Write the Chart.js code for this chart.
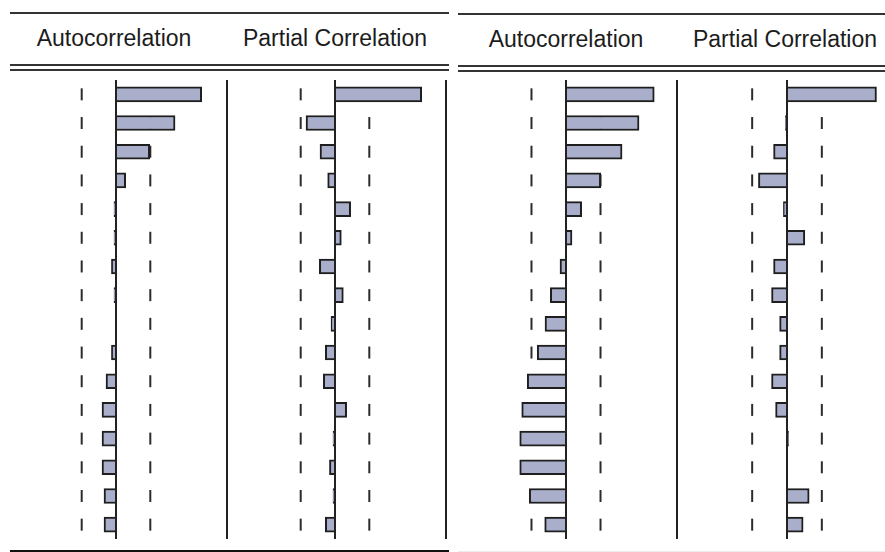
<!DOCTYPE html>
<html>
<head>
<meta charset="utf-8">
<script src="https://cdn.jsdelivr.net/npm/chart.js@4/dist/chart.umd.min.js"></script>
<style>
  html, body { margin: 0; padding: 0; background: #fff; }
  body { width: 885px; height: 552px; overflow: hidden; position: relative; }
  .ln { position: absolute; height: 2px; background: #333; }
  .hd { position: absolute; width: 300px; text-align: center; font-family: "Liberation Sans", Arial, sans-serif;
        font-size: 23px; line-height: 23px; color: #1c1c1c; white-space: nowrap; }
  canvas { position: absolute; }
</style>
</head>
<body>
<div class="ln" style="left:10px;top:12px;width:439px"></div>
<div class="ln" style="left:10px;top:64px;width:439px"></div>
<div class="ln" style="left:10px;top:69px;width:439px"></div>
<div class="ln" style="left:10px;top:550px;width:439px;background:#111"></div>

<div class="ln" style="left:458px;top:13px;width:427px"></div>
<div class="ln" style="left:458px;top:65px;width:427px"></div>
<div class="ln" style="left:458px;top:70px;width:427px"></div>
<div class="ln" style="left:458px;top:551px;width:427px;background:#ececec"></div>

<div class="hd" id="h1" style="left:-36px;top:27px"></div>
<div class="hd" id="h2" style="left:185px;top:27px"></div>
<div class="hd" id="h3" style="left:416px;top:28px"></div>
<div class="hd" id="h4" style="left:635px;top:28px"></div>

<canvas id="c1" width="224" height="459" style="left:5px;top:80px"></canvas>
<canvas id="c2" width="224" height="459" style="left:224px;top:80px"></canvas>
<canvas id="c3" width="224" height="459" style="left:455px;top:80px"></canvas>
<canvas id="c4" width="224" height="459" style="left:675px;top:80px"></canvas>

<script>
// Lags (rows)
const lags = ['1','2','3','4','5','6','7','8','9','10','11','12','13','14','15','16'];

// Left correlogram
const leftAcf  = [0.772, 0.532, 0.304, 0.087, -0.018, -0.018, -0.041, -0.018, 0.000, -0.041, -0.090, -0.126, -0.126, -0.126, -0.108, -0.108];
const leftPacf = [0.781, -0.261, -0.135, -0.066, 0.141, 0.057, -0.141, 0.075, -0.036, -0.087, -0.105, 0.105, -0.018, -0.050, -0.018, -0.087];
const leftBand = 0.309;

// Right correlogram
const rightAcf  = [0.795, 0.658, 0.505, 0.313, 0.141, 0.054, -0.054, -0.141, -0.189, -0.259, -0.349, -0.399, -0.417, -0.417, -0.331, -0.192];
const rightPacf = [0.799, -0.014, -0.120, -0.255, -0.032, 0.159, -0.120, -0.138, -0.066, -0.066, -0.138, -0.102, 0.014, 0.000, 0.198, 0.144];
const rightBand = 0.311;

const headers = ['Autocorrelation', 'Partial Correlation'];

document.getElementById('h1').textContent = headers[0];
document.getElementById('h2').textContent = headers[1];
document.getElementById('h3').textContent = headers[0];
document.getElementById('h4').textContent = headers[1];

function bandSet(value) {
  return {
    type: 'line', indexAxis: 'y', order: 1,
    data: lags.map(() => value),
    showLine: false, pointStyle: 'line', pointRotation: 90,
    pointRadius: 6, pointHoverRadius: 6, pointBorderWidth: 2, pointBorderColor: '#2b2b2b',
    pointBackgroundColor: '#2b2b2b', clip: false
  };
}

function draw(id, values, band, showBorder) {
  new Chart(document.getElementById(id), {
    type: 'bar',
    data: {
      labels: lags,
      datasets: [
        { type: 'bar', indexAxis: 'y', order: 0, data: values,
          backgroundColor: '#a9afcb', borderColor: '#1e1e1e', borderWidth: 2,
          barThickness: 15, borderSkipped: 'start' },
        bandSet(band),
        bandSet(-band)
      ]
    },
    options: {
      indexAxis: 'y', responsive: false, animation: false, events: [],
      layout: { autoPadding: false, padding: { top: 0, bottom: 0, left: 0, right: showBorder ? 2 : 0 } },
      plugins: { legend: { display: false }, tooltip: { enabled: false }, title: { display: false } },
      scales: {
        x: {
          type: 'linear', min: -1, max: 1, position: 'bottom',
          ticks: { display: false },
          border: { display: false },
          grid: { drawTicks: false, lineWidth: 2, color: '#222', z: 1 },
          afterBuildTicks: (s) => { s.ticks = [{ value: 0 }]; }
        },
        y: {
          type: 'category', position: 'right', offset: true,
          ticks: { display: false },
          grid: { display: false, drawTicks: false },
          border: { display: showBorder, color: '#222', width: 2 }
        }
      }
    }
  });
}

draw('c1', leftAcf, leftBand, true);
draw('c2', leftPacf, leftBand, true);
draw('c3', rightAcf, rightBand, true);
draw('c4', rightPacf, rightBand, false);
</script>
</body>
</html>
